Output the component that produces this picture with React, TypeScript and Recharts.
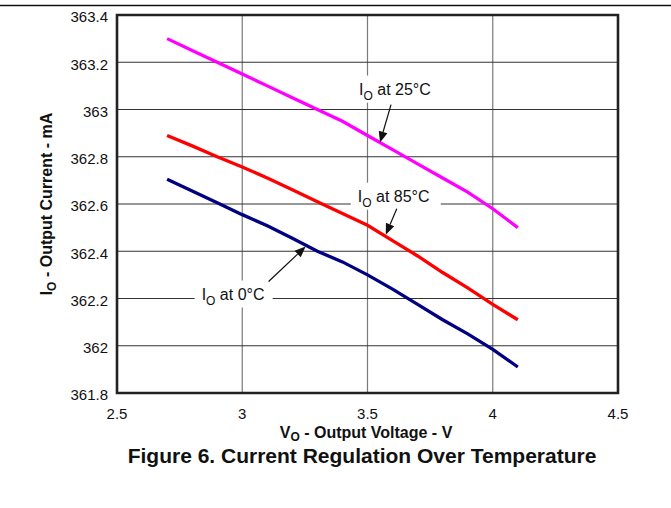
import React from 'react';
import { LineChart, Line, XAxis, YAxis, CartesianGrid, ReferenceArea, ReferenceDot } from 'recharts';

// output voltage (V)
const volts = [2.7, 2.8, 2.9, 3.0, 3.1, 3.2, 3.3, 3.4, 3.5, 3.6, 3.7, 3.8, 3.9, 4.0, 4.1];
// output current (mA) per temperature
const io25 = [363.3, 363.25, 363.2, 363.15, 363.1, 363.05, 363.0, 362.95, 362.89, 362.83, 362.77, 362.71, 362.65, 362.58, 362.5];
const io85 = [362.89, 362.846, 362.8, 362.757, 362.71, 362.66, 362.61, 362.56, 362.51, 362.445, 362.38, 362.31, 362.245, 362.175, 362.11];
const io0 = [362.705, 362.655, 362.605, 362.555, 362.508, 362.455, 362.4, 362.355, 362.3, 362.24, 362.175, 362.11, 362.05, 361.985, 361.91];

const xTicks = [2.5, 3, 3.5, 4, 4.5];
const yTicks = [361.8, 362, 362.2, 362.4, 362.6, 362.8, 363, 363.2, 363.4];

const data = volts.map((v, i) => ({ v, io25: io25[i], io85: io85[i], io0: io0[i] }));

const FONT = '"Liberation Sans", Arial, Helvetica, sans-serif';

// arrow + label, positioned relative to the arrow tip
function callout(temp: string, tail: [number, number], textAt: [number, number], textW: number) {
  return (props: any) => {
    const { cx, cy } = props;
    const tx = cx + tail[0];
    const ty = cy + tail[1];
    const len = Math.hypot(cx - tx, cy - ty);
    const ux = (cx - tx) / len;
    const uy = (cy - ty) / len;
    const hl = 11;
    const hw = 4.5;
    const bx = cx - ux * hl;
    const by = cy - uy * hl;
    const lx = cx + textAt[0];
    const ly = cy + textAt[1];
    return (
      <g>
        <rect x={lx - 7} y={ly - 19} width={textW + 16} height={27} fill="#fff" />
        <line x1={tx} y1={ty} x2={bx} y2={by} stroke="#111" strokeWidth={1.2} />
        <polygon
          points={`${cx},${cy} ${bx - uy * hw},${by + ux * hw} ${bx + uy * hw},${by - ux * hw}`}
          fill="#111"
        />
        <text x={lx} y={ly} fontSize={16} fontFamily={FONT} fill="#111">
          I
          <tspan fontSize={12} dy={5}>O</tspan>
          <tspan dy={-5}>{` at ${temp}`}</tspan>
        </text>
      </g>
    );
  };
}

const fmt = (v: number) => String(+v.toFixed(1));

export default function App() {
  return (
    <div style={{ position: 'absolute', left: 0, top: 0, width: 671, height: 508, background: '#fff' }}>
      <LineChart
        width={671}
        height={508}
        data={data}
        margin={{ top: 15, right: 53, bottom: 75, left: 57 }}
      >
        <CartesianGrid horizontal={false} stroke="#7a7a7a" strokeWidth={1.2} />
        <CartesianGrid vertical={false} stroke="#333" strokeWidth={1.2} />
        <XAxis
          dataKey="v"
          type="number"
          domain={[2.5, 4.5]}
          ticks={xTicks}
          tickFormatter={fmt}
          axisLine={false}
          tickLine={false}
          tickSize={0}
          tickMargin={15}
          height={40}
          tick={{ fill: '#111', fontSize: 15, fontFamily: FONT }}
        />
        <YAxis
          type="number"
          domain={[361.8, 363.4]}
          ticks={yTicks}
          tickFormatter={fmt}
          axisLine={false}
          tickLine={false}
          tickSize={0}
          tickMargin={9}
          width={60}
          interval={0}
          tick={{ fill: '#111', fontSize: 15, fontFamily: FONT, dy: 2 }}
        />
        <ReferenceArea x1={2.5} x2={4.5} y1={361.8} y2={363.4} fill="none" stroke="#222" strokeWidth={2.6} />
        <Line dataKey="io25" type="linear" stroke="#ff00ff" strokeWidth={3.3} dot={false} isAnimationActive={false} />
        <Line dataKey="io85" type="linear" stroke="#ff0000" strokeWidth={3.3} dot={false} isAnimationActive={false} />
        <Line dataKey="io0" type="linear" stroke="#000080" strokeWidth={3.3} dot={false} isAnimationActive={false} />
        <ReferenceDot x={3.55} y={362.86} r={1} shape={callout('25°C', [11, -38], [-21, -48], 72)} />
        <ReferenceDot x={3.573} y={362.47} r={1} shape={callout('85°C', [11, -26], [-28, -33], 74)} />
        <ReferenceDot x={3.253} y={362.42} r={1} shape={callout('0°C', [-37, 35], [-104, 53], 62)} />
      </LineChart>
      <svg width={671} height={508} style={{ position: 'absolute', left: 0, top: 0, pointerEvents: 'none' }}>
        <line x1={0} y1={5.5} x2={671} y2={5.5} stroke="#111" strokeWidth={1.5} />
        <text
          transform="translate(52,204) rotate(-90)"
          textAnchor="middle"
          fontSize={16}
          fontWeight="bold"
          fontFamily={FONT}
          fill="#111"
        >
          I<tspan fontSize={12} dy={4}>O</tspan>
          <tspan dy={-4}> - Output Current - mA</tspan>
        </text>
        <text x={366} y={438} textAnchor="middle" fontSize={16} fontWeight="bold" fontFamily={FONT} fill="#111">
          V<tspan fontSize={12} dy={3}>O</tspan>
          <tspan dy={-3}> - Output Voltage - V</tspan>
        </text>
        <text x={362} y={463} textAnchor="middle" fontSize={21} fontWeight="bold" fontFamily={FONT} fill="#111">
          Figure 6. Current Regulation Over Temperature
        </text>
      </svg>
    </div>
  );
}
